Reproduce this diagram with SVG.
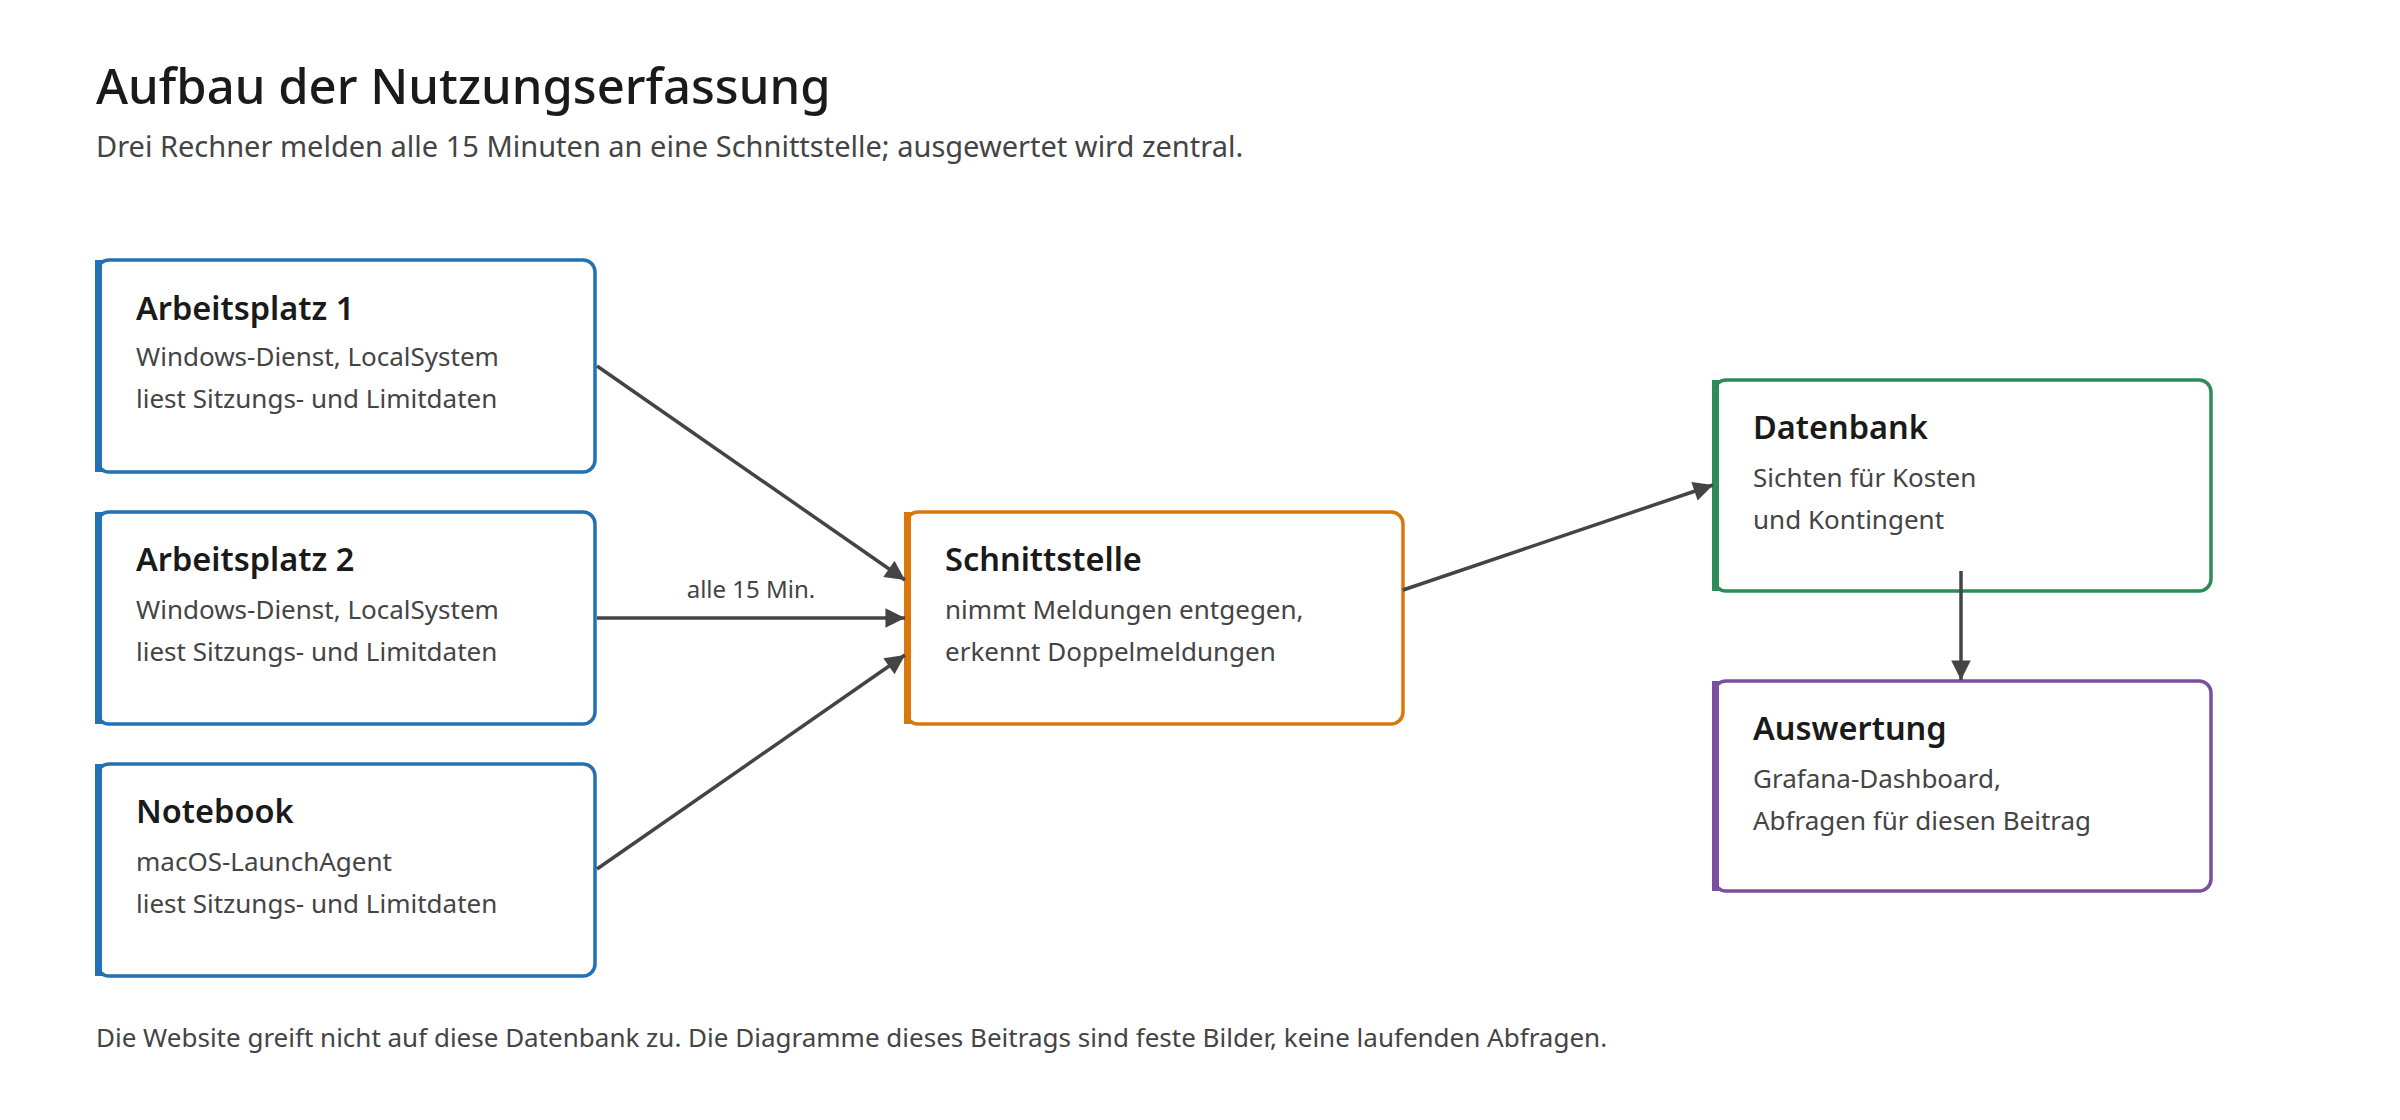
<svg xmlns="http://www.w3.org/2000/svg" width="2400" height="1120" viewBox="0 0 2400 1120">
<style>
text{font-family:"Noto Sans","Open Sans",sans-serif}
.h1{font-size:49px;fill:#1a1a1a;font-weight:500}
.sub{font-size:29px;fill:#444}
.t{font-size:32.5px;fill:#1a1a1a;font-weight:600}
.b{font-size:26px;fill:#444}
.box{fill:#fff;stroke-width:3.5}
.acc{stroke:none}
.e{stroke:#444;stroke-width:3.5;fill:none;marker-end:url(#ar)}
.lbl{font-size:24px;fill:#444;text-anchor:middle}
.foot{font-size:26px;fill:#444}
</style>
<defs>
<marker id="ar" viewBox="0 0 10 10" refX="10" refY="5" markerWidth="7" markerHeight="7" markerUnits="userSpaceOnUse" orient="auto" style="overflow:visible">
<path d="M0,0 L10,5 L0,10 z" fill="#444" transform="scale(2.8) translate(-6.4,-3.2)"/>
</marker>
</defs>
<rect width="2400" height="1120" fill="#fff"/>
<text class="h1" x="96" y="104">Aufbau der Nutzungserfassung</text>
<text class="sub" x="96" y="157">Drei Rechner melden alle 15 Minuten an eine Schnittstelle; ausgewertet wird zentral.</text>
<g id="ap1">
<rect class="box" x="97" y="260" width="498" height="212" rx="12" stroke="#2271b3"/>
<rect class="acc" x="95" y="260" width="7" height="212" fill="#2271b3"/>
<text class="t" x="136" y="320">Arbeitsplatz 1</text>
<text class="b" x="136" y="366">Windows-Dienst, LocalSystem</text>
<text class="b" x="136" y="408">liest Sitzungs- und Limitdaten</text>
</g>
<g id="ap2">
<rect class="box" x="97" y="512" width="498" height="212" rx="12" stroke="#2271b3"/>
<rect class="acc" x="95" y="512" width="7" height="212" fill="#2271b3"/>
<text class="t" x="136" y="571">Arbeitsplatz 2</text>
<text class="b" x="136" y="619">Windows-Dienst, LocalSystem</text>
<text class="b" x="136" y="661">liest Sitzungs- und Limitdaten</text>
</g>
<g id="notebook">
<rect class="box" x="97" y="764" width="498" height="212" rx="12" stroke="#2271b3"/>
<rect class="acc" x="95" y="764" width="7" height="212" fill="#2271b3"/>
<text class="t" x="136" y="823">Notebook</text>
<text class="b" x="136" y="871">macOS-LaunchAgent</text>
<text class="b" x="136" y="913">liest Sitzungs- und Limitdaten</text>
</g>
<g id="schnittstelle">
<rect class="box" x="906" y="512" width="497" height="212" rx="12" stroke="#d9770b"/>
<rect class="acc" x="904" y="512" width="7" height="212" fill="#d9770b"/>
<text class="t" x="945" y="571">Schnittstelle</text>
<text class="b" x="945" y="619">nimmt Meldungen entgegen,</text>
<text class="b" x="945" y="661">erkennt Doppelmeldungen</text>
</g>
<g id="datenbank">
<rect class="box" x="1714" y="380" width="497" height="211" rx="12" stroke="#2e8b57"/>
<rect class="acc" x="1712" y="380" width="7" height="211" fill="#2e8b57"/>
<text class="t" x="1753" y="439">Datenbank</text>
<text class="b" x="1753" y="487">Sichten für Kosten</text>
<text class="b" x="1753" y="529">und Kontingent</text>
</g>
<g id="auswertung">
<rect class="box" x="1714" y="681" width="497" height="210" rx="12" stroke="#7b4fa0"/>
<rect class="acc" x="1712" y="681" width="7" height="210" fill="#7b4fa0"/>
<text class="t" x="1753" y="740">Auswertung</text>
<text class="b" x="1753" y="788">Grafana-Dashboard,</text>
<text class="b" x="1753" y="830">Abfragen für diesen Beitrag</text>
</g>
<g id="connectors">
<line class="e" x1="597" y1="366" x2="905" y2="580"/>
<line class="e" x1="597" y1="618" x2="905" y2="618"/>
<line class="e" x1="597" y1="869" x2="905" y2="655"/>
<text class="lbl" x="751" y="598">alle 15 Min.</text>
<line class="e" x1="1403" y1="590" x2="1713" y2="485"/>
<line class="e" x1="1961" y1="571" x2="1961" y2="680"/>
</g>
<text class="foot" x="96" y="1047">Die Website greift nicht auf diese Datenbank zu. Die Diagramme dieses Beitrags sind feste Bilder, keine laufenden Abfragen.</text>
</svg>
